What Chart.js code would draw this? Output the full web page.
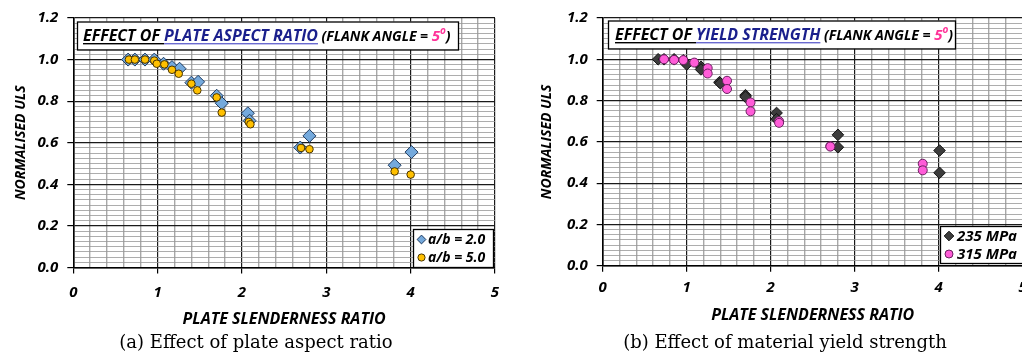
<!DOCTYPE html>
<html>
<head>
<meta charset="utf-8">
<script src="https://cdn.jsdelivr.net/npm/chart.js@4.4.1/dist/chart.umd.min.js"></script>
<style>
html, body { margin: 0; padding: 0; background: #fff; overflow: hidden; width: 1022px; height: 354px; }
#wrapA { position: absolute; left: 0; top: 0; width: 511px; height: 354px; }
#wrapB { position: absolute; left: 520px; top: 0; width: 520px; height: 354px; }
</style>
</head>
<body>
<div id="wrapA"><canvas id="chartA" width="511" height="354"></canvas></div>
<div id="wrapB"><canvas id="chartB" width="520" height="354"></canvas></div>
<script>
/* axis tick labels */
var xTickLabels = ['0', '1', '2', '3', '4', '5'];
var yTickLabels = ['0.0', '0.2', '0.4', '0.6', '0.8', '1.0', '1.2'];

/* (a) plate aspect ratio */
var slenderA2 = [0.65, 0.73, 0.85, 0.96, 1.07, 1.17, 1.26, 1.40, 1.48, 1.70, 1.76, 2.07, 2.09, 2.69, 2.80, 3.81, 4.01];
var ulsA2     = [1.00, 1.00, 1.00, 1.00, 0.980, 0.964, 0.956, 0.889, 0.893, 0.826, 0.790, 0.742, 0.706, 0.577, 0.633, 0.492, 0.555];
var slenderA5 = [0.66, 0.73, 0.85, 0.96, 0.99, 1.08, 1.17, 1.25, 1.40, 1.47, 1.70, 1.76, 2.08, 2.10, 2.70, 2.80, 3.81, 4.00];
var ulsA5     = [1.00, 1.00, 1.00, 0.995, 0.980, 0.977, 0.951, 0.932, 0.884, 0.852, 0.818, 0.745, 0.700, 0.689, 0.575, 0.569, 0.462, 0.447];

/* (b) yield strength */
var slender235 = [0.66, 0.73, 0.85, 0.96, 1.00, 1.17, 1.17, 1.39, 1.40, 1.70, 1.70, 2.07, 2.07, 2.80, 2.80, 4.01, 4.01];
var uls235     = [1.00, 1.00, 1.00, 0.995, 0.975, 0.964, 0.951, 0.889, 0.884, 0.826, 0.818, 0.740, 0.710, 0.634, 0.574, 0.558, 0.450];
var slender315 = [0.73, 0.85, 0.96, 1.09, 1.25, 1.25, 1.48, 1.48, 1.76, 1.76, 2.10, 2.10, 2.71, 2.71, 3.81, 3.81];
var uls315     = [1.00, 0.997, 0.996, 0.984, 0.957, 0.931, 0.896, 0.856, 0.791, 0.748, 0.700, 0.692, 0.579, 0.577, 0.494, 0.462];

function pts(xs, ys) {
    return xs.map(function (x, i) { return {x: x, y: ys[i]}; });
}
function isMult(v, step) {
    var r = v / step;
    return Math.abs(r - Math.round(r)) < 1e-6;
}

var boldItalic = function (size) {
    return {family: '"Open Sans"', size: size, style: 'italic', weight: 'bold'};
};

// title box, legend box and caption
var decor = {
    id: 'decor',
    afterDraw: function (chart, args, o) {
        var ctx = chart.ctx;
        ctx.save();
        var b = o.box;
        ctx.fillStyle = '#fff';
        ctx.fillRect(b.x, b.y, b.w, b.h);
        ctx.strokeStyle = '#000';
        ctx.lineWidth = 1.3;
        ctx.strokeRect(b.x + 0.5, b.y + 0.5, b.w, b.h);
        var x = o.textX;
        ctx.textBaseline = 'alphabetic';
        ctx.textAlign = 'left';
        o.segments.forEach(function (s) {
            ctx.font = s.font;
            ctx.fillStyle = s.color;
            ctx.fillText(s.text, x, o.textY - (s.raise || 0));
            var w = ctx.measureText(s.text).width;
            if (s.underline) {
                ctx.fillStyle = s.underline;
                ctx.fillRect(x, o.textY + 2, w, 1.4);
            }
            x += w;
        });

        // legend
        var l = o.legend;
        ctx.fillStyle = '#fff';
        ctx.fillRect(l.x, l.y, l.w, l.h);
        ctx.strokeStyle = '#000';
        ctx.lineWidth = 1.3;
        ctx.strokeRect(l.x + 0.5, l.y + 0.5, l.w, l.h);
        chart.data.datasets.forEach(function (ds, i) {
            var cy = l.rowY[i];
            var mx = l.markX;
            ctx.fillStyle = ds.backgroundColor;
            ctx.strokeStyle = ds.borderColor;
            ctx.lineWidth = 1;
            ctx.beginPath();
            if (ds.pointStyle === 'rectRot') {
                var r = l.markR + 0.8;
                ctx.moveTo(mx - r, cy); ctx.lineTo(mx, cy - r);
                ctx.lineTo(mx + r, cy); ctx.lineTo(mx, cy + r);
                ctx.closePath();
            } else {
                ctx.arc(mx, cy, l.markR, 0, Math.PI * 2);
            }
            ctx.fill();
            ctx.stroke();
            ctx.fillStyle = '#000';
            ctx.font = l.font;
            ctx.textBaseline = 'middle';
            ctx.fillText(ds.label, l.textX, cy + 1);
        });

        // caption
        ctx.fillStyle = '#000';
        ctx.font = o.caption.font;
        ctx.textAlign = 'center';
        ctx.textBaseline = 'alphabetic';
        ctx.fillText(o.caption.text, o.caption.x, o.caption.y);
        ctx.restore();
    }
};

function makeScales(o) {
    return {
        x: {
            type: 'linear', min: 0, max: 5,
            afterFit: function (s) { s.height = o.xHeight; },
            ticks: {
                stepSize: 0.2, autoSkip: false, maxRotation: 0, maxTicksLimit: 100,
                padding: o.xTickPad, color: '#000', font: boldItalic(15),
                callback: function (v) { return isMult(v, 1) ? xTickLabels[Math.round(v)] : ''; }
            },
            grid: {
                color: function (c) { return isMult(c.tick.value, 1) ? '#1a1a1a' : '#a8a8a8'; },
                lineWidth: function (c) { return isMult(c.tick.value, 1) ? 1.2 : 1.4; },
                tickLength: 6,
                tickColor: function (c) { return isMult(c.tick.value, 1) ? '#000' : 'rgba(0,0,0,0)'; }
            },
            border: {color: '#000', width: 1.6},
            title: {
                display: true, text: 'PLATE SLENDERNESS RATIO', color: '#000',
                font: boldItalic(16), padding: {top: 0, bottom: o.xTitlePad}
            }
        },
        y: {
            type: 'linear', min: 0, max: 1.2,
            afterFit: function (s) { s.width = o.yWidth; },
            ticks: {
                stepSize: 0.025, autoSkip: false, maxTicksLimit: 100,
                padding: 9, color: '#000', font: boldItalic(15),
                callback: function (v) { return isMult(v, 0.2) ? yTickLabels[Math.round(v / 0.2)] : ''; }
            },
            grid: {
                color: function (c) { return isMult(c.tick.value, 0.2) ? '#1a1a1a' : '#989898'; },
                lineWidth: function (c) { return isMult(c.tick.value, 0.2) ? 1.2 : 0.8; },
                tickLength: 6,
                tickColor: function (c) { return isMult(c.tick.value, 0.2) ? '#000' : 'rgba(0,0,0,0)'; }
            },
            border: {color: '#000', width: 1.6},
            title: {
                display: true, text: 'NORMALISED ULS', color: '#000',
                font: boldItalic(14), padding: {top: o.yTitlePad, bottom: 0}
            }
        }
    };
}

/* 차트 (a) */
new Chart(document.getElementById('chartA').getContext('2d'), {
    type: 'scatter',
    data: {
        datasets: [{
            label: 'a/b = 2.0',
            data: pts(slenderA2, ulsA2),
            pointStyle: 'rectRot', pointRadius: 6.5, pointHoverRadius: 6.5,
            backgroundColor: '#74A9DC', borderColor: '#1E3A5F', borderWidth: 1, order: 1
        }, {
            label: 'a/b = 5.0',
            data: pts(slenderA5, ulsA5),
            pointStyle: 'circle', pointRadius: 3.8, pointHoverRadius: 3.8,
            backgroundColor: '#FFC000', borderColor: '#4A3500', borderWidth: 1, order: 0
        }]
    },
    options: {
        responsive: false,
        animation: false,
        devicePixelRatio: 1,
        layout: {padding: {left: 0, top: 17, right: 16, bottom: 0}},
        scales: makeScales({xHeight: 86.5, xTickPad: 10, xTitlePad: 25, yWidth: 73.3, yTitlePad: 12.5}),
        plugins: {
            legend: {display: false},
            tooltip: {enabled: false},
            decor: {
                box: {x: 77, y: 21.5, w: 381, h: 28},
                textX: 83, textY: 41,
                segments: [
                    {text: 'EFFECT OF ', font: 'italic bold 16px "Open Sans"', color: '#000', underline: '#000'},
                    {text: 'PLATE ASPECT RATIO', font: 'italic bold 16px "Open Sans"', color: '#1A1F8C', underline: '#6A6AD0'},
                    {text: ' (FLANK ANGLE = ', font: 'italic bold 14px "Open Sans"', color: '#000'},
                    {text: '5', font: 'italic bold 15px "Open Sans"', color: '#FF3399'},
                    {text: 'o', font: 'italic bold 10px "Open Sans"', color: '#FF3399', raise: 7},
                    {text: ')', font: 'italic bold 14px "Open Sans"', color: '#000'}
                ],
                legend: {x: 413, y: 229, w: 80, h: 38, rowY: [239.5, 257.5], markX: 421.5, markR: 3.6,
                    textX: 428, font: 'italic bold 14px "Open Sans"'},
                caption: {text: '(a) Effect of plate aspect ratio', x: 256, y: 348, font: '18px "DejaVu Serif"'}
            }
        }
    },
    plugins: [decor]
});

/* 차트 (b) */
new Chart(document.getElementById('chartB').getContext('2d'), {
    type: 'scatter',
    data: {
        datasets: [{
            label: '235 MPa',
            data: pts(slender235, uls235),
            pointStyle: 'rectRot', pointRadius: 5.8, pointHoverRadius: 5.8,
            backgroundColor: '#3C3C3C', borderColor: '#111', borderWidth: 1, order: 1
        }, {
            label: '315 MPa',
            data: pts(slender315, uls315),
            pointStyle: 'circle', pointRadius: 4.5, pointHoverRadius: 4.5,
            backgroundColor: '#FF5CD8', borderColor: '#6A2060', borderWidth: 1, order: 0
        }]
    },
    options: {
        responsive: false,
        animation: false,
        devicePixelRatio: 1,
        layout: {padding: {left: 0, top: 17, right: 17.3, bottom: 0}},
        scales: makeScales({xHeight: 88.3, xTickPad: 7.5, xTitlePad: 28.5, yWidth: 82.7, yTitlePad: 18.5}),
        plugins: {
            legend: {display: false},
            tooltip: {enabled: false},
            decor: {
                box: {x: 88, y: 20.5, w: 347, h: 28},
                textX: 95, textY: 40,
                segments: [
                    {text: 'EFFECT OF ', font: 'italic bold 16px "Open Sans"', color: '#000', underline: '#000'},
                    {text: 'YIELD STRENGTH', font: 'italic bold 16px "Open Sans"', color: '#1A1F8C', underline: '#6A6AD0'},
                    {text: ' (FLANK ANGLE = ', font: 'italic bold 14px "Open Sans"', color: '#000'},
                    {text: '5', font: 'italic bold 15px "Open Sans"', color: '#FF3399'},
                    {text: 'o', font: 'italic bold 10px "Open Sans"', color: '#FF3399', raise: 7},
                    {text: ')', font: 'italic bold 14px "Open Sans"', color: '#000'}
                ],
                legend: {x: 420, y: 226, w: 84, h: 37, rowY: [236, 254], markX: 429, markR: 4,
                    textX: 437, font: 'italic bold 15px "Open Sans"'},
                caption: {text: '(b) Effect of material yield strength', x: 265, y: 348, font: '18px "DejaVu Serif"'}
            }
        }
    },
    plugins: [decor]
});
</script>
</body>
</html>
